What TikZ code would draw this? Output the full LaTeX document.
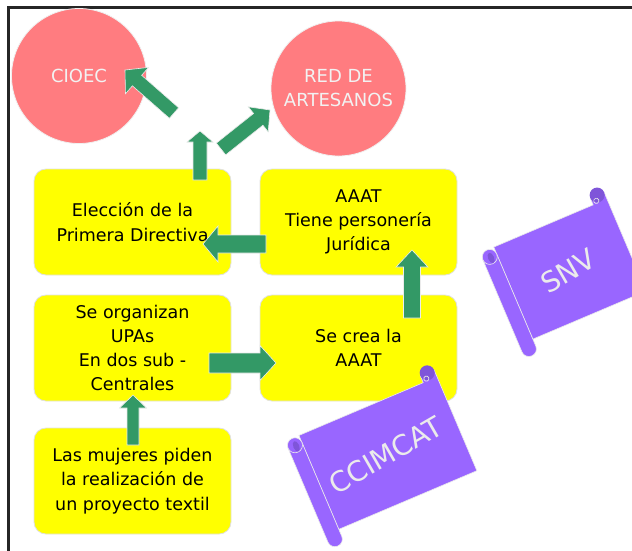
\documentclass[tikz,border=0pt]{standalone}
\usepackage{fontspec}
\setmainfont{DejaVu Sans}
\usetikzlibrary{calc}
\definecolor{boxyellow}{HTML}{FFFF00}
\definecolor{arrgreen}{HTML}{339966}
\definecolor{circpink}{HTML}{FF7C80}
\definecolor{scrollpurple}{HTML}{9966FF}
\definecolor{curlpurple}{HTML}{7F55D9}
\definecolor{lighttext}{HTML}{F2F2F2}
\tikzset{
  stepbox/.style={rectangle, rounded corners=12pt, fill=boxyellow, draw=black!12, line width=0.8pt,
    minimum width=197pt, minimum height=106pt, align=center, inner sep=0pt,
    font=\fontsize{17.5}{24.3}\selectfont, text=black},
  orgcircle/.style={circle, fill=circpink, draw=black!6, line width=0.8pt, minimum size=135pt,
    inner sep=0pt, align=center, font=\fontsize{18}{24}\selectfont, text=lighttext},
  blockarr/.style={fill=arrgreen, draw=black!8, line width=0.6pt, line join=miter},
  scrollfill/.style={fill=scrollpurple, draw=white!92!black, line width=0.6pt},
  scrollcurl/.style={fill=curlpurple},
  scrolltext/.style={text=black!8, font=\fontsize{28}{34}\selectfont, inner sep=0pt},
}
\newcommand\blockarrow[5]{%
  \path ($(#2)!#5!(#1)$) coordinate (ba-n);
  \filldraw[blockarr] ($(#1)!#3!90:(#2)$) -- ($(ba-n)!#3!-90:(#1)$) -- ($(ba-n)!#4!-90:(#1)$)
    -- (#2) -- ($(ba-n)!#4!90:(#1)$) -- ($(ba-n)!#3!90:(#1)$) -- ($(#1)!#3!-90:(#2)$) -- cycle;}
\newcommand\scrollshape[7]{%
  \begin{scope}[shift={(#1,#2)},rotate=#5,shift={({-(#3)/2},{-(#4)/2})}]
    \pgfmathsetmacro\sw{#3}\pgfmathsetmacro\sh{#4}
    \filldraw[scrollfill] (15,15) -- ({\sw-15},15) -- ({\sw-15},7.5) -- (\sw,7.5) -- (\sw,{\sh-15}) -- (15,{\sh-15}) -- cycle;
    \filldraw[scrollfill] (0,22.5) {[rounded corners=7.4pt] -- (0,\sh) -- (15,\sh)} -- (15,22.5) -- cycle;
    \filldraw[scrollfill] (7.5,22.5) circle[radius=7.5];
    \fill[scrollcurl] (8.3,24) ellipse[x radius=3, y radius=5.5];
    \fill[scrollcurl] ({\sw-7.5},7.5) circle[radius=7.5];
    \draw[white!92!black, line width=0.6pt] ({\sw-10.5},12.5) circle[radius=2.6];
    \node[scrolltext, rotate=#5+7] (#7) at ({\sw/2+5},{\sh/2+1}) {#6};
  \end{scope}}
\begin{document}
\begin{tikzpicture}[x=1pt,y=-1pt]
\useasboundingbox (0,0) rectangle (632,550);
\clip (0,0) rectangle (632,550);
\fill[white] (0,0) rectangle (632,550);
% frame
\draw[line width=3pt, black!85] (8,555) -- (8,7) -- (640,7);

% circles
\node[orgcircle] (cioec) at (79,76) {CIOEC};
\node[orgcircle] (red) at (338.5,88.5) {RED DE\\ARTESANOS};

% boxes
\node[stepbox] (elec) at (132.5,222) {Elección de la\\Primera Directiva};
\node[stepbox] (upas) at (132.5,348) {Se organizan\\UPAs\\En dos sub -\\Centrales};
\node[stepbox] (mujeres) at (132.5,481) {Las mujeres piden\\la realización de\\un proyecto textil};
\node[stepbox] (aaat) at (358.5,222) {AAAT\\Tiene personería\\Jurídica};
\node[stepbox] (crea) at (358.5,348) {Se crea la\\AAAT};

% arrow end points
\coordinate (a1s) at (174,113);  \coordinate (a1e) at (125,70);
\coordinate (a2s) at (200,180);  \coordinate (a2e) at (200,131);
\coordinate (a3s) at (221,149);  \coordinate (a3e) at (270,110);
\coordinate (a4s) at (266,244);  \coordinate (a4e) at (203,244);
\coordinate (a5s) at (209,363);  \coordinate (a5e) at (276,363);
\coordinate (a6s) at (133,445);  \coordinate (a6e) at (133,395);
\coordinate (a7s) at (412,318);  \coordinate (a7e) at (412,250);

\blockarrow{a1s}{a1e}{7pt}{17.5pt}{16pt}
\blockarrow{a2s}{a2e}{7pt}{13pt}{11pt}
\blockarrow{a3s}{a3e}{7.5pt}{16pt}{15pt}
\blockarrow{a4s}{a4e}{9pt}{18pt}{15pt}
\blockarrow{a5s}{a5e}{10pt}{17.5pt}{16pt}
\blockarrow{a6s}{a6e}{6pt}{13.5pt}{13pt}
\blockarrow{a7s}{a7e}{8.5pt}{16pt}{17pt}

% scrolls
\scrollshape{563}{272}{138}{130}{23}{SNV}{snv}
\scrollshape{381}{456}{165}{132}{23}{CCIMCAT}{ccimcat}
\end{tikzpicture}
\end{document}
